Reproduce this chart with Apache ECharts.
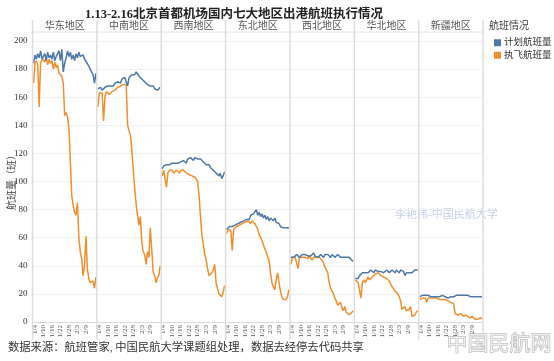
<!DOCTYPE html>
<html><head><meta charset="utf-8">
<script src="https://cdn.jsdelivr.net/npm/echarts@6/dist/echarts.min.js"></script>
<style>html,body{margin:0;padding:0;background:#fff}#c{width:554px;height:361px}</style>
</head><body><div id="c"></div>
<script>
const dates = ['1/3','1/4','1/5','1/6','1/7','1/8','1/9','1/10','1/11','1/12','1/13','1/14','1/15','1/16','1/17','1/18','1/19','1/20','1/21','1/22','1/23','1/24','1/25','1/26','1/27','1/28','1/29','1/30','1/31','2/1','2/2','2/3','2/4','2/5','2/6','2/7','2/8','2/9','2/10','2/11','2/12','2/13','2/14','2/15','2/16'];
const regions = ['华东地区','中南地区','西南地区','东北地区','西北地区','华北地区','新疆地区'];
const yTicks = [0,20,40,60,80,100,120,140,160,180,200];
const xTickLabels = ['1/4','1/10','1/16','1/22','1/28','2/3','2/9'];

const plan_huadong = [184,190,187,191,188,193,187,189,191,186,192,188,190,187,192,186,189,188,193,186,194,178,184,188,193,189,192,187,190,186,191,188,192,189,188,190,187,186,184,182,183,178,176,170,177];
const actual_huadong = [170,184,186,183,153,185,184,187,185,188,183,187,184,186,180,185,181,183,177,178,175,170,147,149,146,138,114,90,83,78,76,85,60,50,45,33,40,61,38,31,28,27,29,24,32];
const plan_zhongnan = [166,165,167,165,166,167,166,168,167,168,169,168,170,169,171,172,170,173,172,174,175,168,174,175,176,177,176,178,177,175,174,173,172,171,170,169,170,168,167,168,166,167,165,166,167];
const actual_zhongnan = [153,163,164,163,143,160,164,165,162,163,164,164,165,166,167,167,168,168,169,169,169,140,136,133,122,108,95,84,76,69,75,57,50,48,41,50,46,67,52,36,33,28,31,33,40];
const plan_xinan = [109,111,110,112,111,112,111,113,112,113,114,113,112,114,113,115,114,113,116,115,117,116,115,117,118,116,117,116,115,114,113,112,111,112,110,109,108,107,106,105,104,106,102,104,107];
const actual_xinan = [104,108,107,96,106,108,107,108,106,107,108,107,106,108,107,108,107,106,107,105,106,104,105,103,102,100,90,75,62,55,48,44,38,33,32,35,37,41,28,24,20,19,18,21,26];
const plan_dongbei = [66,67,68,67,68,67,69,68,70,69,71,70,72,71,73,74,73,76,75,77,78,80,76,78,75,77,74,76,73,75,72,74,73,72,74,71,72,70,68,69,67,68,67,68,67];
const actual_dongbei = [63,66,67,65,51,66,67,68,67,69,68,70,69,71,70,72,71,70,72,71,70,68,66,62,60,58,55,52,50,46,44,35,28,25,23,30,35,28,22,18,16,15,16,18,23];
const plan_xibei = [46,47,46,47,48,47,46,47,48,47,48,49,47,48,47,48,49,47,48,46,47,48,47,46,48,47,48,47,46,48,47,46,47,48,47,46,47,46,47,46,45,46,45,44,43];
const actual_xibei = [41,46,45,46,45,38,46,47,46,47,46,47,45,47,46,44,46,45,46,47,46,45,44,42,39,37,35,28,24,22,20,17,15,12,13,14,10,8,11,7,6,5,6,7,8];
const plan_huabei = [31,32,31,33,34,35,34,35,36,35,36,37,36,35,37,38,36,37,36,37,35,36,37,36,35,36,37,36,35,37,36,35,37,38,36,33,35,34,35,36,35,36,37,36,37];
const actual_huabei = [30,29,28,28,17,28,30,28,29,32,30,31,32,33,34,35,35,34,33,33,32,32,31,31,29,27,25,24,22,21,20,18,15,9,10,11,8,7,9,11,4,5,5,7,8];
const plan_xinjiang = [18,18,19,18,19,18,19,19,18,19,18,19,18,19,18,18,19,18,18,18,17,18,18,18,18,18,19,18,19,18,19,18,19,18,19,18,18,19,18,19,18,19,18,19,18];
const actual_xinjiang = [16,17,17,16,17,14,17,16,17,16,17,16,17,16,16,15,16,15,16,15,15,14,14,13,13,6,6,5,5,6,5,4,4,5,4,3,3,4,3,2,3,2,2,3,2];

const planSeries = [plan_huadong, plan_zhongnan, plan_xinan, plan_dongbei, plan_xibei, plan_huabei, plan_xinjiang];
const actualSeries = [actual_huadong, actual_zhongnan, actual_xinan, actual_dongbei, actual_xibei, actual_huabei, actual_xinjiang];

const BLUE = '#4e79a7', ORANGE = '#f28e2b';
const FONT = "'Liberation Serif','Noto Sans CJK SC',serif";
const PL = 32.5, PW = 64.36, TOP = 32, BOT = 322;
const YMAX = 206.4;

const grids = [], xAxes = [], yAxes = [], series = [], graphics = [];
regions.forEach((r, k) => {
  const left = PL + PW * k;
  grids.push({left: left + 1, top: TOP, width: PW - 2, height: BOT - TOP});
  xAxes.push({type: 'category', gridIndex: k, data: dates, boundaryGap: false,
    axisLine: {lineStyle: {color: '#d9d9d9', width: 1}}, axisTick: {show: false},
    axisLabel: {rotate: 90, fontSize: 7, color: '#555', margin: 3, fontFamily: FONT,
      interval: 0, hideOverlap: false,
      formatter: (v) => xTickLabels.indexOf(v) >= 0 ? v : ''}});
  yAxes.push({type: 'value', gridIndex: k, min: 0, max: YMAX, interval: 20,
    axisLine: {show: false}, axisTick: {show: false},
    splitLine: {lineStyle: {color: '#f0f0f0', width: 1}},
    axisLabel: {show: k === 0, fontSize: 9, color: '#333', fontFamily: FONT, margin: 6,
      showMaxLabel: false,
      formatter: (v) => yTicks.indexOf(v) >= 0 ? String(v) : ''}});
  series.push({type: 'line', name: '执飞航班量', xAxisIndex: k, yAxisIndex: k, data: actualSeries[k],
    symbol: 'none', lineStyle: {color: ORANGE, width: 1.5}, itemStyle: {color: ORANGE}, z: 2});
  series.push({type: 'line', name: '计划航班量', xAxisIndex: k, yAxisIndex: k, data: planSeries[k],
    symbol: 'none', lineStyle: {color: BLUE, width: 1.5}, itemStyle: {color: BLUE}, z: 3});
  graphics.push({type: 'text', left: left + PW / 2 - 20, top: 21,
    style: {text: r, fontSize: 10, fill: '#555', fontFamily: FONT, width: 40, align: 'center'}});
});
for (let k = 0; k <= 7; k++) {
  const x = PL + PW * k;
  graphics.push({type: 'line', shape: {x1: x, y1: 20, x2: x, y2: 340}, style: {stroke: '#dedede', lineWidth: 1.5}, z: 10});
}
graphics.push({type: 'line', shape: {x1: PL, y1: TOP, x2: PL + PW * 7, y2: TOP}, style: {stroke: '#e4e4e4', lineWidth: 1}});
graphics.push({type: 'text', left: 7, top: 150, rotation: Math.PI / 2, originX: 0, originY: 0,
  style: {text: '航班量（班）', fontSize: 10, fill: '#444', fontFamily: FONT}});
graphics.push({type: 'text', left: 489, top: 21, style: {text: '航班情况', fontSize: 10, fill: '#444', fontFamily: FONT}});
graphics.push({type: 'text', left: 395, top: 210, style: {text: '李艳伟-中国民航大学', fontSize: 11, fill: '#c3d1ea', fontFamily: FONT}});
graphics.push({type: 'text', left: 8, top: 342, style: {text: '数据来源：航班管家, 中国民航大学课题组处理，数据去经停去代码共享', fontSize: 11.3, fill: '#333', fontFamily: FONT}});
graphics.push({type: 'text', left: 446, top: 333, style: {text: '中国民航网', fontSize: 21, fill: 'rgba(255,255,255,0.6)', stroke: '#b5b5b5', lineWidth: 1, fontFamily: FONT}});

const chart = echarts.init(document.getElementById('c'), null, {renderer: 'canvas'});
chart.setOption({
  animation: false,
  title: {text: '1.13-2.16北京首都机场国内七大地区出港航班执行情况', left: 80, top: 4,
    textStyle: {fontSize: 12.5, fontWeight: 'bold', color: '#222', fontFamily: FONT}},
  legend: {data: ['计划航班量', '执飞航班量'], orient: 'vertical', left: 489, top: 33, itemWidth: 7, itemHeight: 7,
    itemGap: 3, icon: 'rect', textStyle: {fontSize: 9.5, color: '#333', fontFamily: FONT, padding: [0,0,0,-2]}},
  grid: grids, xAxis: xAxes, yAxis: yAxes, series: series, graphic: graphics
});
</script></body></html>
